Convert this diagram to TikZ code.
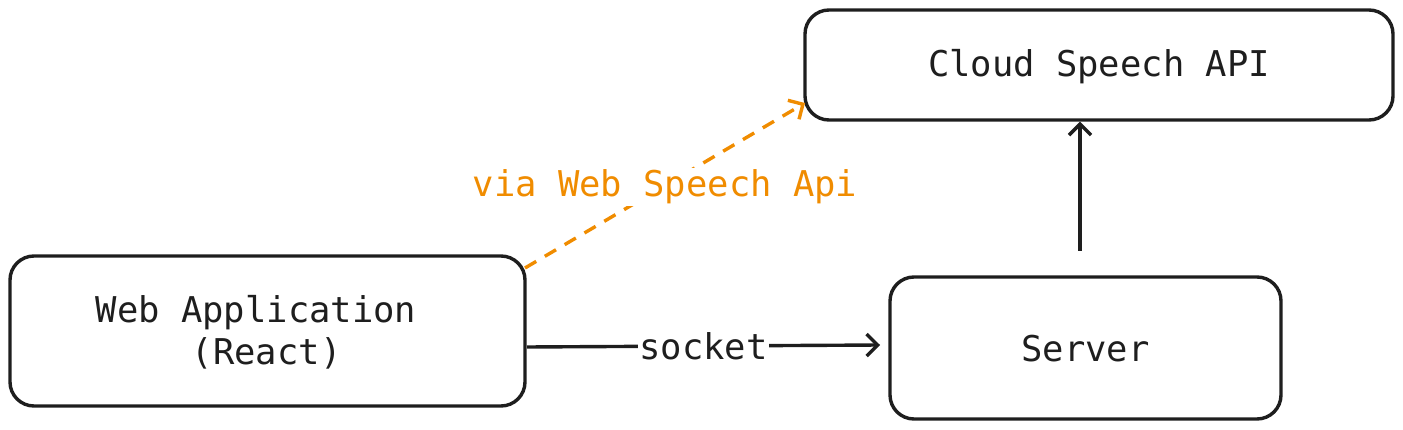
\documentclass[tikz,border=0pt]{standalone}
\usepackage{fontspec}
\setmonofont{DejaVu Sans Mono}
\usetikzlibrary{arrows.meta}
\definecolor{ink}{HTML}{1E1E1E}
\definecolor{orng}{HTML}{F08C00}
\begin{document}
\begin{tikzpicture}[x=1pt,y=-1pt,
  box/.style={draw=ink,line width=3.4pt,rounded corners=24pt,inner sep=0pt},
  lbl/.style={font=\ttfamily\fontsize{35.5}{42}\selectfont,text=ink,align=center},
  tip/.style={-{Straight Barb[length=11pt,width=22pt,line width=3.4pt]}},
  conn/.style={draw=ink,line width=3.4pt,tip}]
\useasboundingbox (0,0) rectangle (1403,430);
\node[box,minimum width=588pt,minimum height=110pt] (cloud) at (1099,65) {};
\node[lbl] at (1099,67) {Cloud Speech API};
\node[box,minimum width=515pt,minimum height=150pt] (web) at (267.5,331) {};
\node[lbl] at (256,332) {Web Application\\\hspace*{0.6em}(React)};
\node[box,minimum width=391pt,minimum height=142pt] (srv) at (1085.5,348) {};
\node[lbl] at (1085.5,349) {Server};
\coordinate (a1) at (525,268);
\coordinate (a2) at (805,103);
\draw[conn,draw=orng,dash pattern=on 13pt off 10pt] (a1) -- (a2);
\node[lbl,text=orng,fill=white,inner sep=2pt] (via) at (665,187) {via Web Speech Api};
\coordinate (s1) at (527,347);
\coordinate (s2) at (880,345);
\draw[conn] (s1) -- node[lbl,fill=white,inner sep=1pt] (sock) {socket} (s2);
\coordinate (v1) at (1080,251);
\draw[conn] (v1) -- (cloud.south -| v1);
\end{tikzpicture}
\end{document}
